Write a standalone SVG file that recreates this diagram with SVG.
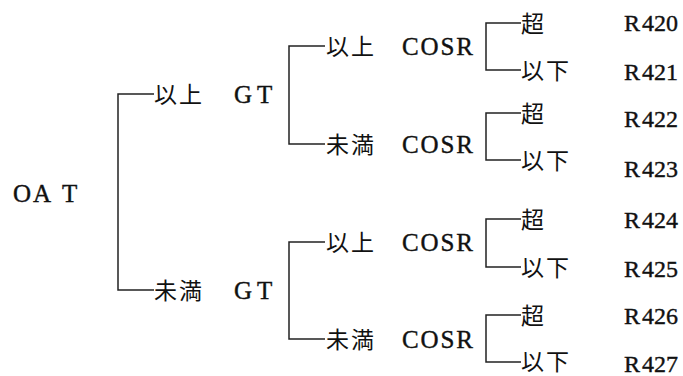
<svg xmlns="http://www.w3.org/2000/svg" width="683" height="376" viewBox="0 0 683 376">
<style>
.lat{font-family:'Liberation Serif','Times New Roman','DejaVu Serif',serif;font-size:25px;fill:#111;stroke:#111;stroke-width:0.4}
.r{font-family:'Liberation Serif','Times New Roman','DejaVu Serif',serif;font-size:24px;fill:#111;stroke:#111;stroke-width:0.4}
.jp{font-family:'Noto Sans CJK JP','Noto Sans CJK SC',sans-serif;font-size:23px;fill:#111;letter-spacing:2px}
.ln{fill:none;stroke:#222;stroke-width:1.5}
</style>
<rect width="683" height="376" fill="#fff"/>
<g id="connectors">
<path class="ln" d="M154,94 H118 V290 H154"/>
<path class="ln" d="M325,46 H289 V144 H325"/>
<path class="ln" d="M325,242 H289 V339 H325"/>
<path class="ln" d="M521,23 H486 V70 H521"/>
<path class="ln" d="M521,113 H486 V160 H521"/>
<path class="ln" d="M521,219 H486 V267 H521"/>
<path class="ln" d="M521,315 H486 V362 H521"/>
</g>
<g id="oat"><text class="lat" x="13 33 62" y="202">OAT</text></g>
<g id="gt-ge"><text class="jp" x="154" y="103">以上</text><text class="lat" x="234 257" y="103">GT</text></g>
<g id="gt-lt"><text class="jp" x="154" y="299">未満</text><text class="lat" x="234 257" y="299">GT</text></g>
<g id="cosr1"><text class="jp" x="326" y="55">以上</text><text class="lat" x="402" y="55" textLength="71">COSR</text></g>
<g id="cosr2"><text class="jp" x="326" y="153">未満</text><text class="lat" x="402" y="153" textLength="71">COSR</text></g>
<g id="cosr3"><text class="jp" x="326" y="251">以上</text><text class="lat" x="402" y="251" textLength="71">COSR</text></g>
<g id="cosr4"><text class="jp" x="326" y="348">未満</text><text class="lat" x="402" y="348" textLength="71">COSR</text></g>
<g id="r420"><text class="jp" x="521" y="32">超</text><text class="r" x="624" y="31">R<tspan dx="2">420</tspan></text></g>
<g id="r421"><text class="jp" x="521" y="79">以下</text><text class="r" x="624" y="80">R<tspan dx="2">421</tspan></text></g>
<g id="r422"><text class="jp" x="521" y="122">超</text><text class="r" x="624" y="127">R<tspan dx="2">422</tspan></text></g>
<g id="r423"><text class="jp" x="521" y="169">以下</text><text class="r" x="624" y="177">R<tspan dx="2">423</tspan></text></g>
<g id="r424"><text class="jp" x="521" y="228">超</text><text class="r" x="624" y="228">R<tspan dx="2">424</tspan></text></g>
<g id="r425"><text class="jp" x="521" y="276">以下</text><text class="r" x="624" y="277">R<tspan dx="2">425</tspan></text></g>
<g id="r426"><text class="jp" x="521" y="324">超</text><text class="r" x="624" y="324">R<tspan dx="2">426</tspan></text></g>
<g id="r427"><text class="jp" x="521" y="370">以下</text><text class="r" x="624" y="372">R<tspan dx="2">427</tspan></text></g>
</svg>
